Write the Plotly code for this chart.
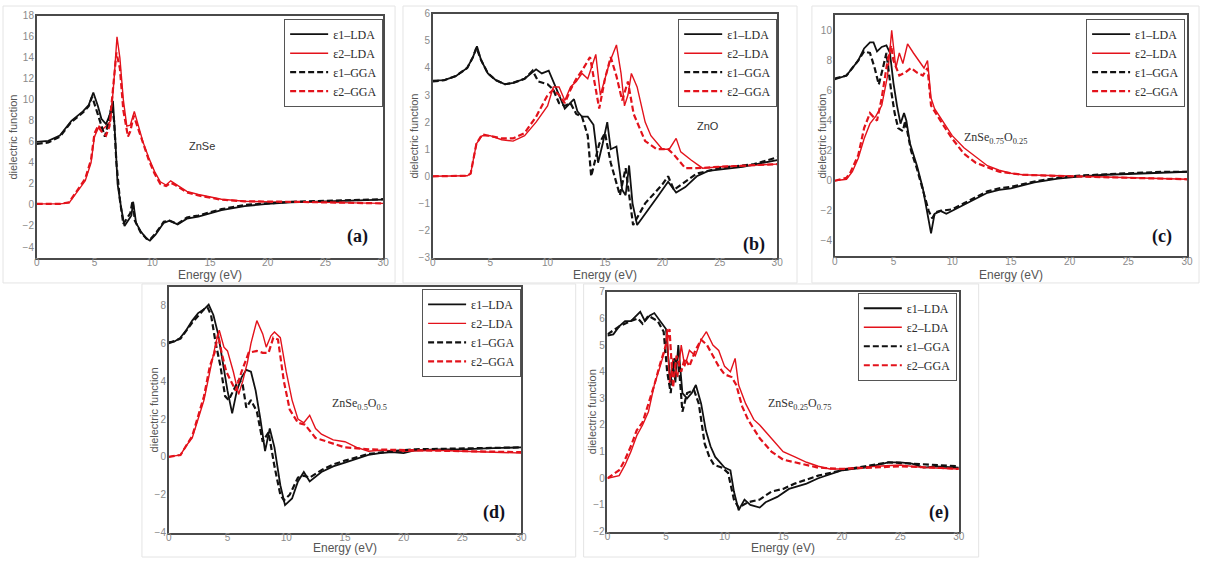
import plotly.graph_objects as go

W, H = 1205, 563

# ---------------- data ----------------
# Panel (a) ZnSe
a_e1_lda_x = [0, 1, 2, 3, 4, 4.5, 4.9, 5.3, 5.6, 6.0, 6.3, 6.6, 6.8, 7.0, 7.3, 7.6, 7.9, 8.2, 8.35, 8.6, 9.0, 9.5, 9.8, 10.3, 11, 11.5, 12.2, 13, 14, 15, 16, 17, 18, 20, 22, 25, 28, 30]
a_e1_lda_y = [6.0, 6.1, 6.6, 8.0, 8.9, 9.5, 10.7, 9.4, 8.2, 7.7, 8.5, 9.9, 6.3, 2.0, -0.2, -2.0, -1.5, -1.0, 0.3, -1.7, -2.5, -3.2, -3.4, -2.8, -1.7, -1.5, -1.85, -1.3, -1.1, -0.8, -0.5, -0.3, -0.1, 0.1, 0.25, 0.35, 0.45, 0.5]
a_e2_lda_x = [0, 2, 2.8, 3.2, 3.7, 4.2, 4.7, 5.0, 5.4, 5.7, 6.0, 6.4, 6.7, 6.95, 7.2, 7.5, 7.8, 8.1, 8.45, 8.8, 9.2, 9.7, 10.2, 10.7, 11.2, 11.6, 12.0, 13, 14, 15, 16, 18, 20, 22, 25, 28, 30]
a_e2_lda_y = [0.1, 0.1, 0.2, 0.8, 1.5, 2.3, 4.0, 6.5, 7.5, 7.2, 7.5, 8.0, 12.0, 16.0, 14.0, 10.0, 7.5, 7.6, 8.9, 7.5, 6.0, 4.5, 3.2, 2.2, 1.9, 2.3, 2.0, 1.3, 1.0, 0.8, 0.55, 0.35, 0.3, 0.25, 0.25, 0.2, 0.15]
a_e1_gga_x = [0, 1, 2, 3, 4, 4.5, 4.8, 5.2, 5.5, 5.9, 6.2, 6.5, 6.7, 6.9, 7.2, 7.5, 7.8, 8.1, 8.3, 8.5, 9.0, 9.5, 9.8, 10.3, 11, 11.5, 12.2, 13, 14, 15, 16, 17, 18, 20, 22, 25, 28, 30]
a_e1_gga_y = [5.8, 5.95, 6.5, 7.9, 8.8, 9.4, 10.3, 9.0, 7.9, 6.5, 7.8, 9.5, 8.0, 4.0, 0.5, -1.8, -1.3, -0.8, 0.4, -1.5, -2.6, -3.2, -3.3, -2.7, -1.6, -1.5, -1.8, -1.2, -1.0, -0.7, -0.4, -0.2, 0.0, 0.15, 0.3, 0.4, 0.5, 0.55]
a_e2_gga_x = [0, 2, 2.8, 3.2, 3.7, 4.2, 4.7, 5.0, 5.3, 5.6, 6.0, 6.3, 6.6, 6.9, 7.2, 7.5, 7.9, 8.1, 8.4, 8.8, 9.2, 9.7, 10.2, 10.7, 11.2, 11.6, 12, 13, 14, 15, 16, 18, 20, 22, 25, 28, 30]
a_e2_gga_y = [0.1, 0.1, 0.25, 0.9, 1.6, 2.5, 4.3, 6.8, 7.5, 7.0, 6.6, 7.5, 11.0, 14.5, 13.0, 9.0, 6.5, 7.0, 8.5, 7.2, 5.8, 4.3, 3.0, 2.0, 1.8, 2.1, 1.9, 1.2, 0.9, 0.7, 0.5, 0.35, 0.3, 0.3, 0.25, 0.2, 0.15]

# Panel (b) ZnO
b_e1_lda_x = [0, 1, 2, 3, 3.5, 3.85, 4.2, 4.8, 5.5, 6.3, 7, 8, 9, 9.5, 10.1, 10.5, 11, 11.5, 12.3, 12.6, 13, 13.5, 14, 14.4, 14.8, 15.2, 15.5, 16, 16.5, 16.8, 17.1, 17.4, 17.8, 18.5, 19.5, 20.5, 21.2, 22, 23, 24, 25, 27, 30]
b_e1_lda_y = [3.53, 3.55, 3.7, 4.0, 4.4, 4.8, 4.3, 3.8, 3.55, 3.4, 3.45, 3.6, 3.95, 3.8, 3.9, 3.5, 3.0, 2.5, 2.85, 2.4, 2.2, 2.2, 1.9, 0.5, 1.2, 2.0, 1.0, 1.1, -0.5, -0.7, 0.4, -1.0, -1.8, -1.4, -0.8, -0.2, -0.6, -0.4, 0.0, 0.2, 0.25, 0.35, 0.6]
b_e2_lda_x = [0, 1, 2, 3, 3.3, 3.5, 3.8, 4.3, 5, 6, 7, 8, 9, 10, 10.5, 11, 11.5, 12, 12.5, 13, 13.5, 14.2, 14.6, 15.0, 15.4, 16.0, 16.4, 16.7, 17.0, 17.3, 17.8, 18.5, 19, 20, 20.6, 21.2, 21.6, 22.5, 23.5, 25, 27, 30]
b_e2_lda_y = [0, 0, 0, 0.02, 0.1, 0.5, 1.2, 1.5, 1.5, 1.35, 1.3, 1.5, 2.0, 2.6, 3.3, 3.3, 2.8, 3.3, 3.5, 3.8, 3.6, 4.5, 3.0, 3.6, 4.2, 4.85, 3.8, 2.6, 3.0, 3.8, 3.3, 2.0, 1.5, 1.0, 1.0, 1.4, 0.9, 0.6, 0.3, 0.35, 0.4, 0.45]
b_e1_gga_x = [0, 1, 2, 3, 3.5, 3.8, 4.2, 4.8, 5.5, 6.3, 7, 8, 8.7, 9.2, 10, 10.5, 11, 11.5, 12, 12.5, 13, 13.5, 13.8, 14.5, 15.0, 15.5, 16.3, 16.8, 17.45, 18.5, 20, 20.5, 21, 22, 23, 25, 28, 30]
b_e1_gga_y = [3.5, 3.55, 3.7, 4.0, 4.4, 4.75, 4.3, 3.8, 3.55, 3.4, 3.45, 3.6, 3.9, 3.5, 3.4, 3.2, 2.7, 2.6, 2.7, 2.3, 2.2, 1.5, 0.0, 1.2, 1.6, 0.5, -0.7, 0.3, -1.8, -1.0, -0.3, 0.0, -0.5, -0.2, 0.1, 0.3, 0.45, 0.7]
b_e2_gga_x = [0, 1, 2, 3, 3.3, 3.5, 3.8, 4.3, 5, 6, 7, 8, 9, 10, 10.5, 11, 11.5, 12, 12.5, 13, 13.7, 14.5, 15.0, 15.5, 16.0, 16.5, 17.0, 17.5, 18.5, 19.5, 20.5, 21, 22, 23, 25, 27, 30]
b_e2_gga_y = [0, 0, 0, 0.02, 0.1, 0.5, 1.2, 1.55, 1.5, 1.4, 1.4, 1.6, 2.2, 3.0, 3.2, 3.0, 2.7, 3.2, 3.6, 3.9, 4.4, 2.5, 3.6, 4.4, 3.7, 2.8, 3.5, 2.3, 1.3, 1.0, 1.0, 0.8, 0.3, 0.3, 0.35, 0.4, 0.45]

# Panel (c) ZnSe0.75O0.25
c_e1_lda_x = [0, 1, 1.5, 2, 2.5, 3.0, 3.3, 3.6, 4.0, 4.4, 4.7, 5.0, 5.3, 5.6, 5.9, 6.1, 6.4, 7, 7.5, 8.0, 8.2, 8.5, 9, 9.5, 10, 11, 12, 13, 14, 15, 17, 19, 21, 23, 25, 28, 30]
c_e1_lda_y = [6.75, 7.0, 7.5, 8.0, 8.8, 9.2, 9.2, 8.6, 8.9, 9.0, 8.5, 6.5, 5.0, 3.8, 4.5, 4.0, 2.5, 1.0, -0.5, -2.5, -3.5, -2.2, -2.0, -2.2, -2.0, -1.6, -1.2, -0.8, -0.6, -0.5, -0.1, 0.15, 0.3, 0.4, 0.45, 0.55, 0.6]
c_e2_lda_x = [0, 1, 1.5, 2, 2.5, 3.0, 3.5, 4.0, 4.5, 4.85, 5.2, 5.5, 5.8, 6.2, 6.7, 7.3, 7.6, 7.9, 8.2, 8.5, 9, 10, 11, 12, 13, 14, 15, 16, 18, 20, 22, 25, 28, 30]
c_e2_lda_y = [0, 0.1, 0.6, 1.5, 2.8, 3.8, 4.3, 5.0, 7.0, 10.0, 7.5, 8.5, 7.8, 9.1, 8.5, 7.8, 7.5, 8.0, 5.5, 4.8, 4.2, 3.0, 2.2, 1.6, 1.0, 0.7, 0.5, 0.4, 0.35, 0.3, 0.3, 0.2, 0.15, 0.1]
c_e1_gga_x = [0, 1, 1.5, 2, 2.5, 3.0, 3.4, 3.75, 4.1, 4.4, 4.8, 5.1, 5.4, 5.8, 6.0, 6.5, 7, 7.5, 8.0, 8.3, 8.6, 9, 10, 11, 12, 13, 14, 15, 17, 19, 21, 23, 25, 28, 30]
c_e1_gga_y = [6.8, 7.0, 7.5, 8.0, 8.6, 8.5, 7.5, 6.4, 7.5, 8.5, 6.0, 4.5, 3.5, 3.3, 4.0, 2.0, 0.8, -0.6, -2.0, -2.5, -2.1, -2.0, -1.9, -1.5, -1.1, -0.7, -0.5, -0.4, -0.05, 0.2, 0.35, 0.45, 0.5, 0.6, 0.6]
c_e2_gga_x = [0, 1, 1.3, 2, 2.5, 3.0, 3.6, 4.0, 4.5, 4.8, 5.0, 5.5, 6.0, 6.5, 7.0, 7.5, 7.9, 8.2, 9, 10, 11, 12, 14, 16, 20, 25, 30]
c_e2_gga_y = [0, 0.2, 0.5, 1.7, 3.5, 4.5, 4.0, 5.5, 8.0, 9.0, 8.0, 7.0, 7.2, 7.5, 7.2, 7.0, 7.5, 5.0, 4.0, 2.8, 1.8, 1.2, 0.6, 0.4, 0.3, 0.2, 0.1]

# Panel (d) ZnSe0.5O0.5
d_e1_lda_x = [0, 0.5, 1, 1.5, 2, 2.5, 3.0, 3.4, 3.8, 4.2, 4.6, 5.0, 5.4, 5.8, 6.2, 6.6, 7.0, 7.4, 7.8, 8.2, 8.6, 9.0, 9.5, 9.9, 10.5, 11, 11.5, 12, 13, 14, 15, 16, 17, 18, 19, 20, 21, 23, 25, 27, 30]
d_e1_lda_y = [6.06, 6.1, 6.3, 6.7, 7.2, 7.6, 7.8, 8.05, 7.5, 6.5, 5.0, 3.5, 2.3, 3.5, 4.2, 4.6, 4.5, 3.5, 2.0, 0.3, 1.5, 0.5, -1.5, -2.55, -2.2, -1.3, -0.8, -1.3, -0.8, -0.5, -0.3, -0.1, 0.1, 0.2, 0.25, 0.2, 0.35, 0.4, 0.4, 0.45, 0.5]
d_e2_lda_x = [0, 1, 1.5, 2, 2.5, 3.0, 3.5, 4.0, 4.3, 4.7, 5.0, 5.5, 5.95, 6.3, 6.7, 7.0, 7.5, 8.0, 8.3, 8.7, 9.0, 9.5, 10, 10.5, 11, 11.5, 12, 12.5, 13, 14, 15, 16, 17, 18, 20, 23, 25, 28, 30]
d_e2_lda_y = [0, 0.1, 0.6, 1.0, 2.0, 3.0, 4.5, 6.0, 6.7, 5.8, 5.6, 4.5, 3.3, 4.0, 5.0, 6.0, 7.2, 6.5, 5.8, 6.4, 6.6, 6.3, 4.5, 3.0, 2.0, 1.8, 2.2, 1.5, 1.2, 0.9, 0.8, 0.5, 0.3, 0.35, 0.3, 0.35, 0.3, 0.25, 0.2]
d_e1_gga_x = [0, 1, 2, 3, 3.3, 3.6, 4.0, 4.4, 4.8, 5.1, 5.5, 6.0, 6.3, 6.6, 7.0, 7.5, 8.0, 8.5, 9.0, 9.5, 9.8, 10.3, 11, 11.5, 12, 13, 14, 15, 17, 19, 21, 25, 27, 30]
d_e1_gga_y = [6.0, 6.25, 7.1, 7.8, 7.9, 7.5, 6.0, 4.8, 3.2, 3.0, 3.5, 4.1, 3.8, 2.6, 3.0, 2.4, 0.8, 1.3, -0.5, -2.0, -2.3, -2.0, -1.1, -1.0, -1.1, -0.7, -0.4, -0.2, 0.15, 0.3, 0.4, 0.45, 0.5, 0.5]
d_e2_gga_x = [0, 1, 2, 3, 3.5, 3.9, 4.2, 4.5, 4.9, 5.2, 5.7, 6.2, 6.8, 7.5, 8.0, 8.5, 8.9, 9.3, 9.8, 10.3, 11, 11.6, 12.5, 14, 15, 17, 20, 25, 30]
d_e2_gga_y = [0, 0.1, 1.1, 3.2, 4.8, 5.5, 6.5, 5.5, 4.5, 4.1, 3.5, 4.5, 5.5, 5.6, 5.5, 5.5, 6.3, 6.2, 4.0, 2.5, 1.8, 1.7, 1.0, 0.7, 0.5, 0.4, 0.35, 0.3, 0.25]

# Panel (e) ZnSe0.25O0.75
e_e1_lda_x = [0, 0.5, 1, 1.5, 2, 2.5, 2.8, 3.2, 3.6, 4.0, 4.5, 5.0, 5.2, 5.4, 5.6, 5.8, 6.05, 6.4, 6.8, 7.2, 7.55, 8.0, 8.4, 8.8, 9.2, 9.6, 10, 10.5, 10.8, 11.2, 11.7, 12.2, 13, 13.5, 14.5, 15.5, 17, 18, 19, 20, 21, 22, 24, 25, 26, 27, 28, 30]
e_e1_lda_y = [5.35, 5.4, 5.7, 5.9, 5.9, 6.1, 6.25, 5.9, 6.1, 6.2, 5.9, 5.6, 4.5, 3.6, 4.3, 3.6, 5.0, 3.2, 3.0, 3.2, 3.5, 2.8, 1.8, 1.2, 0.8, 0.6, 0.4, 0.3, -0.5, -1.2, -0.8, -1.0, -1.1, -0.9, -0.7, -0.4, -0.2, 0.0, 0.15, 0.3, 0.35, 0.4, 0.6, 0.6, 0.55, 0.4, 0.45, 0.4]
e_e2_lda_x = [0, 1, 1.5, 2, 2.5, 3.0, 3.5, 4.0, 4.5, 4.9, 5.1, 5.3, 5.6, 6.0, 6.3, 6.6, 7.0, 7.5, 8.0, 8.45, 9.0, 9.5, 10, 10.5, 10.9, 11.2, 11.8, 12.5, 13, 14, 15, 16, 17, 18, 19, 20, 21, 23, 25, 27, 30]
e_e2_lda_y = [0, 0.1, 0.5, 1.0, 1.6, 2.0, 2.5, 3.5, 4.2, 4.8, 5.6, 3.5, 4.5, 3.8, 5.0, 4.2, 4.8, 4.6, 5.2, 5.5, 5.0, 4.8, 4.2, 4.0, 4.5, 3.5, 2.8, 2.2, 2.0, 1.5, 1.0, 0.8, 0.6, 0.45, 0.35, 0.35, 0.4, 0.45, 0.5, 0.4, 0.35]
e_e1_gga_x = [0, 1, 2, 2.6, 3.0, 3.5, 4.3, 4.8, 5.1, 5.4, 5.7, 6.1, 6.4, 6.8, 7.4, 7.8, 8.3, 8.7, 9.1, 9.8, 10.3, 10.8, 11.2, 12, 13, 14, 15, 16, 18, 20, 22, 24, 26, 28, 30]
e_e1_gga_y = [5.4, 5.7, 5.9, 6.0, 5.8, 6.1, 5.9, 5.5, 4.0, 3.2, 4.5, 4.2, 2.5, 3.2, 3.3, 2.8, 1.3, 0.8, 0.5, 0.4, 0.2, -0.8, -1.1, -0.9, -0.8, -0.5, -0.4, -0.2, 0.1, 0.3, 0.45, 0.6, 0.55, 0.5, 0.45]
e_e2_gga_x = [0, 1, 1.5, 2, 2.5, 3, 3.5, 4, 4.5, 5.0, 5.3, 5.6, 5.9, 6.3, 6.6, 7, 7.5, 8.0, 8.5, 9.0, 9.5, 10, 10.6, 11, 11.5, 12, 13, 14, 15, 16, 18, 20, 22, 25, 28, 30]
e_e2_gga_y = [0, 0.3, 0.7, 1.2, 1.8, 2.1, 2.8, 3.5, 4.3, 5.0, 5.6, 3.4, 4.6, 4.0, 4.5, 4.2, 4.8, 5.2, 5.0, 4.6, 4.2, 3.9, 3.8, 3.5, 2.7, 2.2, 1.5, 1.0, 0.7, 0.6, 0.4, 0.35, 0.4, 0.45, 0.4, 0.35]

series_names = ["ε1–LDA", "ε2–LDA", "ε1–GGA", "ε2–GGA"]
panel_labels = ["(a)", "(b)", "(c)", "(d)", "(e)"]
material_labels = ["ZnSe", "ZnO", "ZnSe<sub>0.75</sub>O<sub>0.25</sub>",
                   "ZnSe<sub>0.5</sub>O<sub>0.5</sub>", "ZnSe<sub>0.25</sub>O<sub>0.75</sub>"]
x_ticks = [0, 5, 10, 15, 20, 25, 30]
y_ticks = [
    [-4, -2, 0, 2, 4, 6, 8, 10, 12, 14, 16, 18],
    [-3, -2, -1, 0, 1, 2, 3, 4, 5, 6],
    [-4, -2, 0, 2, 4, 6, 8, 10],
    [-4, -2, 0, 2, 4, 6, 8],
    [-2, -1, 0, 1, 2, 3, 4, 5, 6, 7],
]
y_ranges = [[-5, 18], [-3, 6], [-5, 11], [-4, 9], [-2, 7]]

panels_data = [
    [(a_e1_lda_x, a_e1_lda_y), (a_e2_lda_x, a_e2_lda_y), (a_e1_gga_x, a_e1_gga_y), (a_e2_gga_x, a_e2_gga_y)],
    [(b_e1_lda_x, b_e1_lda_y), (b_e2_lda_x, b_e2_lda_y), (b_e1_gga_x, b_e1_gga_y), (b_e2_gga_x, b_e2_gga_y)],
    [(c_e1_lda_x, c_e1_lda_y), (c_e2_lda_x, c_e2_lda_y), (c_e1_gga_x, c_e1_gga_y), (c_e2_gga_x, c_e2_gga_y)],
    [(d_e1_lda_x, d_e1_lda_y), (d_e2_lda_x, d_e2_lda_y), (d_e1_gga_x, d_e1_gga_y), (d_e2_gga_x, d_e2_gga_y)],
    [(e_e1_lda_x, e_e1_lda_y), (e_e2_lda_x, e_e2_lda_y), (e_e1_gga_x, e_e1_gga_y), (e_e2_gga_x, e_e2_gga_y)],
]

# ---------------- layout geometry (pixels) ----------------
# left, right, top, bottom of each plot area
boxes = [(34, 383, 10, 257), (433, 780, 8, 257), (838, 1193, 9.6, 255.4),
         (167, 522, 286.7, 538), (609, 963, 292, 537)]
legend_pos = [(383, 13), (780, 13), (1191, 13), (522, 289), (961, 293)]
mat_pos = [(200, 143), (710, 123), (1000, 135), (359, 407), (802, 407)]
lab_pos = [(357, 236), (757, 244), (1168, 236), (495, 518), (943, 518)]
ytitle_x = [10, 414, 825, 152, 593]
xtitle_y = [275, 275, 275, 554, 554]
frames = [(0, 0, 395, 283), (403, 0, 800, 283), (815, 0, 1205, 283),
          (140, 284, 577, 563), (585, 284, 983, 563)]

BLACK = "#111111"
RED = "#e3121b"
colors = [BLACK, RED, BLACK, RED]
dashes = ["solid", "solid", "6px,3px", "6px,3px"]
widths = [1.8, 1.4, 2.2, 2.2]


def px(x):
    return x / W


def py(y):
    return 1 - y / H


fig = go.Figure()
layout = dict(width=W, height=H, margin=dict(l=0, r=0, t=0, b=0), autosize=False,
              paper_bgcolor="white", plot_bgcolor="white", showlegend=True)
annotations = []
shapes = []

for i in range(5):
    n = "" if i == 0 else str(i + 1)
    leg = "legend" if i == 0 else "legend" + str(i + 1)
    L, R, T, B = boxes[i]
    for k in range(4):
        xs, ys = panels_data[i][k]
        fig.add_trace(go.Scatter(
            x=xs, y=ys, mode="lines", name=series_names[k],
            line=dict(color=colors[k], width=widths[k], dash=dashes[k]),
            xaxis="x" + n, yaxis="y" + n, legend=leg, showlegend=True))
    layout["xaxis" + n] = dict(
        domain=[px(L), px(R)], range=[0, 30], anchor="y" + n, tickvals=x_ticks,
        showgrid=False, zeroline=False, showline=True, mirror=True,
        linecolor="#4a4a4a", linewidth=1.5, ticks="", ticklabelstandoff=-5,
        tickfont=dict(family="Liberation Sans, Arial", size=10, color="#8a8a8a"))
    layout["yaxis" + n] = dict(
        domain=[py(B), py(T)], range=y_ranges[i], anchor="x" + n, tickvals=y_ticks[i],
        showgrid=False, zeroline=False, showline=True, mirror=True,
        linecolor="#4a4a4a", linewidth=1.5, ticks="", ticklabelstandoff=-1,
        tickfont=dict(family="Liberation Sans, Arial", size=10, color="#8a8a8a"))
    lx, ly = legend_pos[i]
    layout[leg] = dict(
        x=px(lx), y=py(ly), xanchor="right", yanchor="top",
        bgcolor="white", bordercolor="#555555", borderwidth=1,
        font=dict(family="Liberation Serif, Times New Roman", size=12, color="#2a2a2a"),
        tracegroupgap=0, itemwidth=38)
    mx, my = mat_pos[i]
    annotations.append(dict(
        x=px(mx), y=py(my), xref="paper", yref="paper", text=material_labels[i],
        showarrow=False, xanchor="center", yanchor="middle",
        font=dict(family=("Liberation Sans, Arial" if i < 2 else "Liberation Serif, Times New Roman"),
                  size=11 if i < 2 else 12, color="#333333")))
    tx, ty = lab_pos[i]
    annotations.append(dict(
        x=px(tx), y=py(ty), xref="paper", yref="paper", text="<b>" + panel_labels[i] + "</b>",
        showarrow=False, xanchor="center", yanchor="middle",
        font=dict(family="Liberation Serif, Times New Roman", size=18, color="#111122")))
    annotations.append(dict(
        x=px(ytitle_x[i]), y=py((T + B) / 2), xref="paper", yref="paper",
        text="dielectric function", textangle=-90, showarrow=False,
        xanchor="center", yanchor="middle",
        font=dict(family="Liberation Sans, Arial", size=11, color="#555555")))
    annotations.append(dict(
        x=px((L + R) / 2), y=py(xtitle_y[i]), xref="paper", yref="paper",
        text="Energy (eV)", showarrow=False, xanchor="center", yanchor="middle",
        font=dict(family="Liberation Sans, Arial", size=12, color="#555555")))
    fx0, fy0, fx1, fy1 = frames[i]
    shapes.append(dict(type="rect", xref="paper", yref="paper",
                       x0=px(fx0), x1=px(fx1), y0=py(fy1), y1=py(fy0),
                       line=dict(color="#e4e4e4", width=1), layer="below"))

layout["annotations"] = annotations
layout["shapes"] = shapes
fig.update_layout(**layout)
fig.write_html("out.html")
